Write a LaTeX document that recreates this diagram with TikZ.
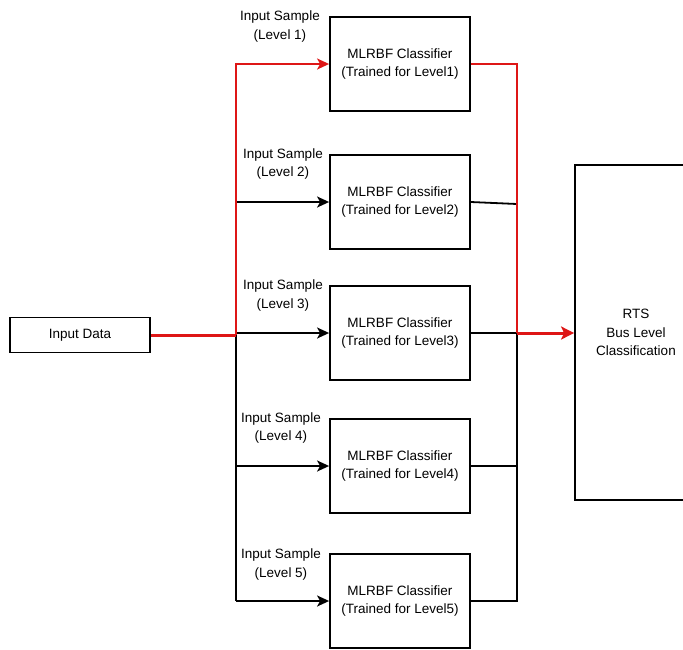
\documentclass[tikz,border=0pt]{standalone}
\usepackage{fontspec}
\setmainfont{Liberation Sans}
\usetikzlibrary{arrows.meta}
\definecolor{busred}{RGB}{222,22,22}
\begin{document}
\begin{tikzpicture}[x=1pt,y=-1pt,
  font=\fontsize{13.5}{18.5}\selectfont,
  box/.style={draw=black,line width=1.8pt,inner sep=0pt,align=center},
  cls/.style={box,minimum width=140pt,minimum height=94pt},
  lbl/.style={align=center,inner sep=0pt},
  wire/.style={line width=1.8pt,draw=black},
  redwire/.style={line width=1.8pt,draw=busred},
  thickred/.style={line width=3pt,draw=busred},
  tip/.style={-{Stealth[length=12pt,width=11pt,inset=3pt]}}
]
\useasboundingbox (0,0) rectangle (683,649);
\fill[white] (0,0) rectangle (683,649);

\node[box,minimum width=140pt,minimum height=35pt] (inp) at (80,335) {Input Data};
\node[cls] (c1) at (400,64) {MLRBF Classifier\\(Trained for Level1)};
\node[cls] (c2) at (400,202) {MLRBF Classifier\\(Trained for Level2)};
\node[cls] (c3) at (400,333) {MLRBF Classifier\\(Trained for Level3)};
\node[cls] (c4) at (400,466) {MLRBF Classifier\\(Trained for Level4)};
\node[cls] (c5) at (400,601) {MLRBF Classifier\\(Trained for Level5)};
\node[box,minimum width=122pt,minimum height=335pt] (rts) at (636,332.5) {RTS\\Bus Level\\Classification};

\node[lbl] (l1) at (280,26.5) {Input Sample\\(Level 1)};
\node[lbl] (l2) at (283,164) {Input Sample\\(Level 2)};
\node[lbl] (l3) at (283,295.5) {Input Sample\\(Level 3)};
\node[lbl] (l4) at (281,428) {Input Sample\\(Level 4)};
\node[lbl] (l5) at (281,564.5) {Input Sample\\(Level 5)};

\coordinate (bj) at (236,335);
\coordinate (b1) at (236,64);
\coordinate (b2) at (236,202);
\coordinate (b3) at (236,333);
\coordinate (b4) at (236,466);
\coordinate (b5) at (236,601);
\coordinate (o1) at (517,64);
\coordinate (o2) at (517,204);
\coordinate (o3) at (517,333);
\coordinate (o4) at (517,466);
\coordinate (o5) at (517,601);

% black wiring
\draw[wire] (bj) -- (b5);
\draw[wire,tip] (b2) -- (c2.west);
\draw[wire,tip] (b3) -- (c3.west);
\draw[wire,tip] (b4) -- (c4.west);
\draw[wire,tip] (b5) -- (c5.west);
\draw[wire] (c2.east) -- (o2);
\draw[wire] (c3.east) -- (o3);
\draw[wire] (c4.east) -- (o4);
\draw[wire] (c5.east) -- (o5) -- (o3);

% red path
\draw[thickred] (inp.east) -- (bj);
\draw[redwire,tip] (bj) -- (b1) -- (c1.west);
\draw[redwire] (c1.east) -- (o1) -- (o3);
\draw[thickred,-{Stealth[length=13pt,width=13pt,inset=3pt]}] (o3) -- (o3 -| rts.west);
\end{tikzpicture}
\end{document}
